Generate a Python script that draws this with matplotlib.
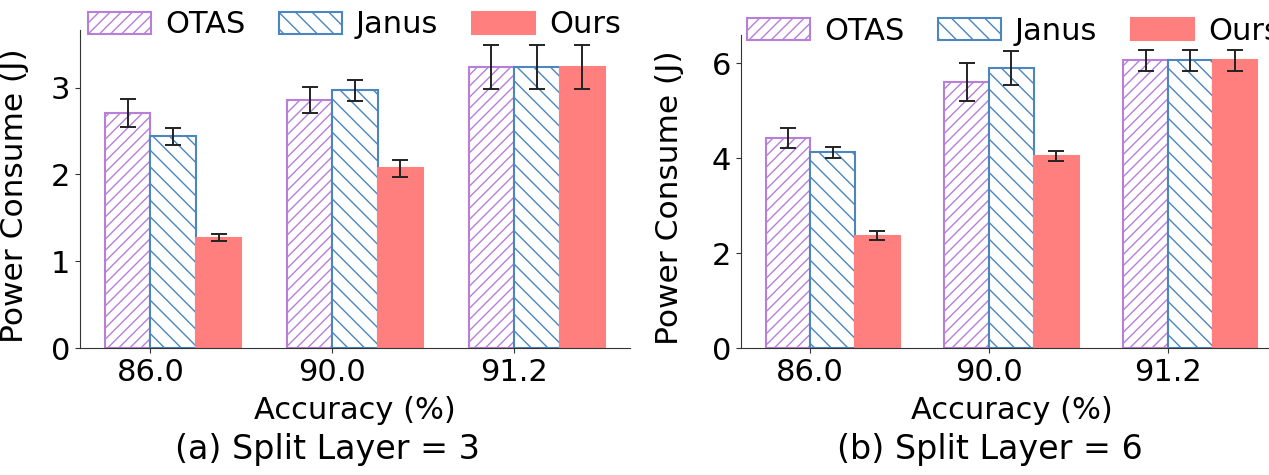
import matplotlib
matplotlib.use('Agg')
import matplotlib.pyplot as plt
import numpy as np

# Data
accuracy = ['86.0', '90.0', '91.2']
methods = ['OTAS', 'Janus', 'Ours']

# (a) split layer = 3
otas_3 = [2.71, 2.86, 3.24]
janus_3 = [2.44, 2.97, 3.24]
ours_3 = [1.27, 2.07, 3.24]
otas_3_err = [0.16, 0.15, 0.25]
janus_3_err = [0.10, 0.12, 0.25]
ours_3_err = [0.04, 0.10, 0.25]

# (b) split layer = 6
otas_6 = [4.42, 5.60, 6.06]
janus_6 = [4.12, 5.90, 6.06]
ours_6 = [2.37, 4.04, 6.06]
otas_6_err = [0.21, 0.40, 0.22]
janus_6_err = [0.12, 0.36, 0.22]
ours_6_err = [0.09, 0.10, 0.22]

purple = '#b77fd8'
blue = '#4b86bf'
red = '#ff7f7f'

W, H = 1269, 475
fig = plt.figure(figsize=(W / 100, H / 100), dpi=100)

ax1 = fig.add_axes([80 / W, 1 - 348 / H, 550 / W, 318 / H])
ax2 = fig.add_axes([741 / W, 1 - 348 / H, 541 / W, 313 / H])

x = np.arange(len(accuracy))
w = 0.25


def draw(ax, vals, errs):
    styles = [
        dict(facecolor='white', edgecolor=purple, hatch='///'),
        dict(facecolor='white', edgecolor=blue, hatch='\\\\'),
        dict(facecolor=red, edgecolor=red, hatch=None),
    ]
    offsets = [-w / 2, w / 2, 1.5 * w]
    for name, v, e, st, off in zip(methods, vals, errs, styles, offsets):
        ax.bar(x + off, v, w, yerr=e, label=name, linewidth=1.5,
               error_kw=dict(elinewidth=1.4, capsize=6, capthick=1.4, ecolor='#222222'),
               **st)
    ax.set_xticks(x)
    ax.set_xticklabels(accuracy)
    ax.spines['top'].set_visible(False)
    ax.spines['right'].set_visible(False)
    for s in ['left', 'bottom']:
        ax.spines[s].set_color('#333333')
    ax.tick_params(labelsize=22, colors='#333333', labelcolor='black')
    ax.set_xlabel('Accuracy (%)', fontsize=22, labelpad=7)
    ax.set_ylabel('Power Consume (J)', fontsize=22.5)


plt.rcParams['hatch.linewidth'] = 1.0

draw(ax1, [otas_3, janus_3, ours_3], [otas_3_err, janus_3_err, ours_3_err])
draw(ax2, [otas_6, janus_6, ours_6], [otas_6_err, janus_6_err, ours_6_err])

ax1.set_yticks([0, 1, 2, 3])
ax2.set_yticks([0, 2, 4, 6])
ax1.yaxis.set_label_coords(-0.093, 0.48)
ax2.yaxis.set_label_coords(-0.105, 0.48)

leg_kw = dict(ncol=3, frameon=False, fontsize=22, borderpad=0, borderaxespad=0,
              handlelength=2.07, handleheight=0.72, handletextpad=0.45,
              columnspacing=1.1, loc='upper left', bbox_transform=fig.transFigure)
ax1.legend(bbox_to_anchor=(88 / W, 0.978), **leg_kw)
ax2.legend(bbox_to_anchor=(747 / W, 0.965), **leg_kw)

fig.text(327 / W, 1 - 450 / H, '(a) Split Layer = 3', fontsize=24, ha='center', va='center')
fig.text(990 / W, 1 - 450 / H, '(b) Split Layer = 6', fontsize=24, ha='center', va='center')

fig.savefig('out.png', dpi=100)
